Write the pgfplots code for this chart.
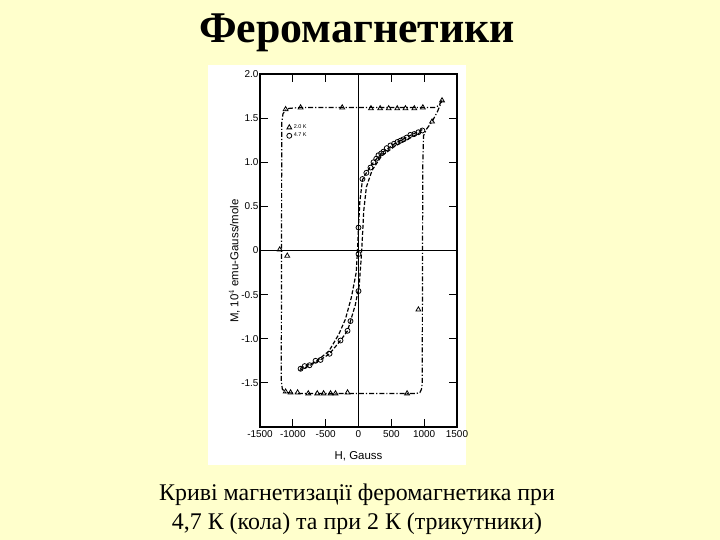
\documentclass[border=0pt]{standalone}
\usepackage{fontspec}
\setmainfont{Liberation Serif}
\newfontfamily\plotfont{Liberation Sans}
\usepackage{pgfplots}
\pgfplotsset{compat=1.18}
\definecolor{bgyellow}{RGB}{255,255,204}
\begin{document}
\begin{tikzpicture}
\path[use as bounding box] (0,0) rectangle (720bp,540bp);
\fill[bgyellow] (0,0) rectangle (720bp,540bp);
\fill[white] (208bp,75bp) rectangle (466bp,475bp);
\node[font=\fontsize{44}{50}\selectfont\bfseries] at (357bp,507bp) {Феромагнетики};
\node[font=\fontsize{24}{29}\selectfont, align=center] at (357bp,31bp) {Криві магнетизації феромагнетика при\\4,7 К (кола) та при 2 К (трикутники)};
\begin{axis}[
  at={(260bp,113bp)}, anchor=south west, scale only axis,
  width=197bp, height=353bp,
  xmin=-1500, xmax=1500, ymin=-2, ymax=2,
  axis line style={line width=1.3pt},
  tick style={line width=1.2pt, black},
  major tick length=8bp,
  tick align=inside,
  xtick pos=both, ytick pos=both,
  xtick={-1500,-1000,-500,0,500,1000,1500},
  xticklabels={-1500,-1000,-500,0,500,1000,1500},
  ytick={-2,-1.5,-1,-0.5,0,0.5,1,1.5,2},
  yticklabels={,-1.5,-1.0,-0.5,0,0.5,1.0,1.5,2.0},
  ticklabel style={font=\plotfont\fontsize{10}{11}\selectfont},
  yticklabel style={xshift=2pt},
  /pgf/number format/assume math mode=true,
  xlabel={H, Gauss},
  ylabel={M, 10$^{4}$ emu-Gauss/mole},
  label style={font=\plotfont\fontsize{11.5}{13}\selectfont},
  xlabel style={at={(axis description cs:0.5,-0.06)}, anchor=north},
  ylabel style={at={(axis description cs:-0.13,0.47)}, anchor=center},
  legend style={draw=none, fill=none, font=\plotfont\fontsize{5.5}{6}\selectfont,
    at={(axis description cs:0.13,0.865)}, anchor=north west, row sep=-1pt,
    inner sep=1pt},
  legend cell align=left,
  clip=false,
]
% zero lines
\addplot[black, line width=1pt, forget plot] coordinates {(0,-2) (0,2)};
\addplot[black, line width=1pt, forget plot] coordinates {(-1500,0) (1500,0)};
% 2 K hysteresis loop (dash-dot)
\addplot[black, line width=1.2pt, dash pattern=on 5pt off 2pt on 1.2pt off 2pt, forget plot] coordinates {
(1272,1.70) (1220,1.64) (1160,1.62) (900,1.62) (500,1.62) (0,1.62) (-500,1.62) (-900,1.62)
(-1060,1.61) (-1110,1.59) (-1150,1.55) (-1168,1.45) (-1170,1.0) (-1172,0.0) (-1175,-1.0)
(-1175,-1.48) (-1160,-1.57) (-1110,-1.61) (-900,-1.62) (0,-1.62) (880,-1.62) (935,-1.61)
(960,-1.57) (970,-1.50) (972,-1.0) (975,0) (980,1.0) (990,1.30) (1040,1.38) (1120,1.46)
(1200,1.57) (1272,1.70)};
% 4.7 K branches (dashed)
\addplot[black, line width=1.2pt, dash pattern=on 4pt off 2pt, forget plot] coordinates {
(-900,-1.36) (-600,-1.25) (-441,-1.17) (-274,-1.02) (-167,-0.91) (-122,-0.80) (-50,-0.62)
(10,-0.40) (40,-0.10) (56,0.10) (80,0.45) (120,0.72) (208,0.91) (350,1.07) (550,1.18)
(750,1.26) (973,1.35)};
\addplot[black, line width=1.2pt, dash pattern=on 4pt off 2pt, forget plot] coordinates {
(973,1.37) (750,1.29) (550,1.21) (380,1.12) (228,1.00) (120,0.88) (60,0.80) (20,0.55)
(0,0.26) (-15,0.0) (-35,-0.25) (-108,-0.53) (-200,-0.78) (-300,-0.95) (-450,-1.14)
(-650,-1.26) (-900,-1.34)};
% triangles 2 K
\addplot[only marks, black, mark=triangle, mark size=2.8pt, mark options={solid, fill=white, line width=0.8pt}] coordinates {
(-1110,1.60) (-882,1.62) (-248,1.62) (190,1.61) (330,1.61) (460,1.61) (590,1.61) (715,1.61)
(850,1.61) (980,1.62) (1120,1.46) (1272,1.70)
(-1200,0.01) (-1085,-0.06) (912,-0.67)
(-1110,-1.60) (-1034,-1.61) (-927,-1.61) (-765,-1.62) (-628,-1.62) (-532,-1.62)
(-426,-1.62) (-350,-1.62) (-167,-1.61) (740,-1.62)};
\addlegendentry{2.0 K}
% circles 4.7 K
\addplot[only marks, black, mark=o, mark size=2.5pt, mark options={solid, fill=white, line width=0.8pt}] coordinates {
(-882,-1.34) (-820,-1.31) (-745,-1.30) (-654,-1.25) (-578,-1.24) (-441,-1.17) (-274,-1.02)
(-167,-0.91) (-122,-0.80) (0,-0.46) (0,-0.04) (0,0.26) (60,0.81)
(120,0.88) (182,0.94) (228,1.00) (270,1.04) (304,1.08) (345,1.10) (380,1.12) (430,1.16)
(486,1.19) (540,1.21) (593,1.23) (640,1.245) (684,1.26) (735,1.28) (790,1.31) (850,1.32)
(912,1.34) (973,1.36)};
\addlegendentry{4.7 K}
\end{axis}
\end{tikzpicture}
\end{document}
